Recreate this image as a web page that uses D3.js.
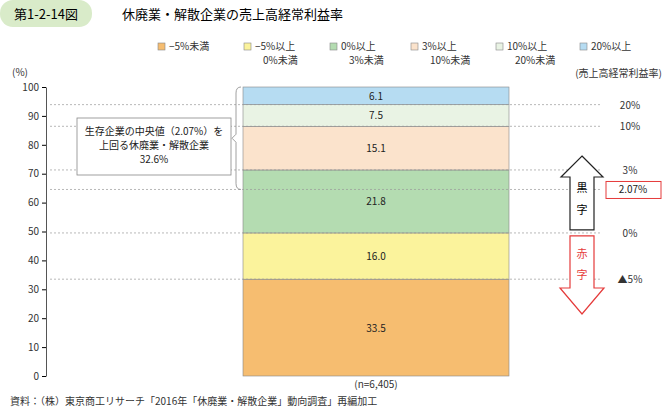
<!DOCTYPE html>
<html><head><meta charset="utf-8">
<script src="https://cdn.jsdelivr.net/npm/d3@7"></script>
<style>body{margin:0;background:#fff}text{font-family:"Noto Sans CJK JP","Noto Sans",sans-serif}</style>
</head><body><svg id="c" width="667" height="411"></svg>
<script>
const categories = ['−5%未満', '−5%以上\n0%未満', '0%以上\n3%未満', '3%以上\n10%未満', '10%以上\n20%未満', '20%以上'];
const values = [33.5, 16.0, 21.8, 15.1, 7.5, 6.1];
const colors = ['#f6bd70', '#fbf39c', '#b4dcb1', '#fbe3cc', '#e9f3e4', '#b6dcf2'];
const boundaryLabels = ['▲5%', '0%', '3%', '10%', '20%'];
const medianValue = 2.07;
const yTicks = [0, 10, 20, 30, 40, 50, 60, 70, 80, 90, 100];

const svg = d3.select('#c');
const y = d3.scaleLinear().domain([0, 100]).range([376, 87]);
const bx0 = 243, bx1 = 509;

// header
svg.append('rect').attr('x', 0).attr('y', 0).attr('width', 92).attr('height', 27).attr('rx', 13).attr('fill', '#d9ebc9');
svg.append('text').attr('x', 14).attr('y', 19).attr('font-size', 13).text('第1-2-14図');
svg.append('text').attr('x', 122).attr('y', 19).attr('font-size', 13).text('休廃業・解散企業の売上高経常利益率');

// legend
const lx = [158, 244, 330, 411, 496, 580];
categories.forEach((c, i) => {
  svg.append('rect').attr('x', lx[i]).attr('y', 43).attr('width', 7).attr('height', 7)
    .attr('fill', colors[i]).attr('stroke', '#888').attr('stroke-width', 0.6);
  c.split('\n').forEach((t, j) => svg.append('text').attr('x', lx[i] + 11 + (j ? 8 : 0)).attr('y', 50 + j * 14)
    .attr('font-size', 10).attr('fill', '#333').text(t));
});

// axis
const ax = svg.append('g').attr('transform', 'translate(46,0)')
  .call(d3.axisLeft(y).tickValues(yTicks).tickSize(4).tickSizeOuter(0));
ax.select('.domain').attr('stroke', '#555');
ax.selectAll('text').attr('font-size', 10).attr('fill', '#333');
svg.append('text').attr('x', 12).attr('y', 76).attr('font-size', 10).attr('fill', '#333').text('(%)');
svg.append('text').attr('x', 662).attr('y', 77).attr('font-size', 10).attr('fill', '#333').attr('text-anchor', 'end').text('(売上高経常利益率)');

// stacked bar
let cum = 0;
const stacks = values.map(v => { const s = { y0: cum, y1: cum + v, v }; cum += v; return s; });
stacks.forEach((s, i) => {
  svg.append('rect').attr('x', bx0).attr('width', bx1 - bx0).attr('y', y(s.y1)).attr('height', y(s.y0) - y(s.y1))
    .attr('fill', colors[i]).attr('stroke', '#888').attr('stroke-width', 0.6);
  svg.append('text').attr('x', (bx0 + bx1) / 2).attr('y', (y(s.y0) + y(s.y1)) / 2 + 4).attr('text-anchor', 'middle')
    .attr('font-size', 10).attr('fill', '#222').text(s.v.toFixed(1));
});

// dotted boundary lines
stacks.slice(0, 5).forEach((s, i) => {
  svg.append('line').attr('x1', 50).attr('x2', 600).attr('y1', y(s.y1)).attr('y2', y(s.y1))
    .attr('stroke', '#999').attr('stroke-dasharray', '2,2').attr('stroke-width', 0.7);
  svg.append('text').attr('x', 630).attr('y', y(s.y1) + 4).attr('text-anchor', 'middle')
    .attr('font-size', 10).attr('fill', '#333').text(boundaryLabels[i]);
});
const medY = y(stacks[1].y1 + values[2] * medianValue / 3);
svg.append('line').attr('x1', 50).attr('x2', 600).attr('y1', medY).attr('y2', medY)
  .attr('stroke', '#999').attr('stroke-dasharray', '2,2').attr('stroke-width', 0.7);
svg.append('rect').attr('x', 606).attr('y', medY - 8).attr('width', 55).attr('height', 17).attr('fill', '#fff').attr('stroke', '#e53a3a');
svg.append('text').attr('x', 633).attr('y', medY + 4).attr('text-anchor', 'middle').attr('font-size', 10).attr('fill', '#222').text(medianValue.toFixed(2) + '%');

// arrows
const yBlackTop = 156, y0 = y(stacks[1].y1);
svg.append('path').attr('d', `M582,${yBlackTop} L603,${yBlackTop + 21} L594,${yBlackTop + 21} L594,${y0 - 3} L570,${y0 - 3} L570,${yBlackTop + 21} L561,${yBlackTop + 21} Z`)
  .attr('fill', '#fff').attr('stroke', '#222').attr('stroke-width', 1.2);
svg.append('text').attr('x', 582).attr('y', 192).attr('text-anchor', 'middle').attr('font-size', 11).text('黒');
svg.append('text').attr('x', 582).attr('y', 214).attr('text-anchor', 'middle').attr('font-size', 11).text('字');
svg.append('path').attr('d', `M570,${y0 + 3} L594,${y0 + 3} L594,288 L604,288 L582,314 L560,288 L570,288 Z`)
  .attr('fill', '#fff').attr('stroke', '#e53a3a').attr('stroke-width', 1.2);
svg.append('text').attr('x', 582).attr('y', 258).attr('text-anchor', 'middle').attr('font-size', 11).attr('fill', '#e53a3a').text('赤');
svg.append('text').attr('x', 582).attr('y', 279).attr('text-anchor', 'middle').attr('font-size', 11).attr('fill', '#e53a3a').text('字');

// brace + callout
const bt = y(100), bb = medY;
svg.append('path').attr('d', `M241,${bt} Q236,${bt} 236,${bt + 6} L236,${(bt + bb) / 2 - 4} L232,${(bt + bb) / 2} L236,${(bt + bb) / 2 + 4} L236,${bb - 6} Q236,${bb} 241,${bb}`)
  .attr('fill', 'none').attr('stroke', '#888').attr('stroke-width', 0.8);
svg.append('rect').attr('x', 77).attr('y', 118).attr('width', 154).attr('height', 57).attr('fill', '#fff').attr('stroke', '#888').attr('stroke-width', 0.8);
['生存企業の中央値（2.07%）を', '上回る休廃業・解散企業', '32.6%'].forEach((t, i) =>
  svg.append('text').attr('x', 154).attr('y', 135 + i * 14).attr('text-anchor', 'middle').attr('font-size', 10).attr('fill', '#222').text(t));

svg.append('text').attr('x', 376).attr('y', 388).attr('text-anchor', 'middle').attr('font-size', 10).attr('fill', '#333').text('(n=6,405)');
svg.append('text').attr('x', 10).attr('y', 405).attr('font-size', 10).attr('fill', '#333').text('資料：（株）東京商工リサーチ「2016年「休廃業・解散企業」動向調査」再編加工');
</script></body></html>
